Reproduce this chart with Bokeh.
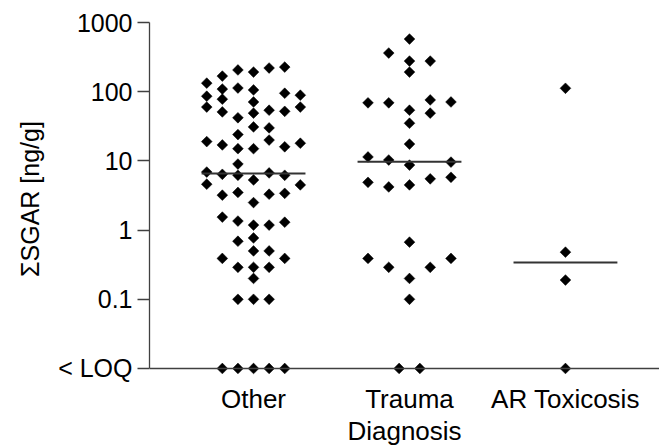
import numpy as np
from bokeh.plotting import figure
from bokeh.models import Range1d, FixedTicker, Span
from bokeh.embed import file_html
from bokeh.resources import INLINE

# ---- data -------------------------------------------------------------
categories = ["Other", "Trauma", "AR Toxicosis"]
LOQ = 0.01  # values below limit of quantification are plotted here
y_ticks = [0.01, 0.1, 1, 10, 100, 1000]
y_tick_labels = ["< LOQ", "0.1", "1", "10", "100", "1000"]

other_values = [206, 192, 220, 227, 168, 133, 109, 113, 106, 86,
                78, 71, 95, 89, 60, 51, 49, 54, 52, 60,
                42, 31, 30, 24, 19, 17, 15, 15, 20, 16,
                18, 9.0, 6.9, 6.4, 6.2, 6.7, 6.2, 5.3, 4.6, 4.5,
                3.2, 3.5, 3.3, 3.4, 2.5, 1.54, 1.35, 1.18, 1.18, 1.30,
                0.77, 0.69, 0.50, 0.50, 0.39, 0.29, 0.29, 0.29, 0.39, 0.20,
                0.1, 0.1, 0.1, LOQ, LOQ, LOQ, LOQ, LOQ]
other_cols = [-1, 0, 1, 2, -2, -3, -2, -1, 0, -3,
              -2, 0, 2, 3, -3, -2, 0, 1, 2, 3,
              -1, 0, 1, -1, -3, -2, -1, 0, 1, 2,
              3, -1, -3, -2, -1, 1, 2, 0, -3, 3,
              -2, -1, 1, 2, 0, -2, -1, 0, 1, 2,
              0, -1, 0, 1, -2, -1, 0, 1, 2, 0,
              -1, 0, 1, -2, -1, 0, 1, 2]

trauma_values = [577, 362, 277, 277, 192, 69, 69, 76, 71, 54,
                 49, 35, 17.5, 11.4, 10.3, 8.7, 9.6, 4.9, 4.2, 4.5,
                 5.5, 5.8, 0.67, 0.39, 0.29, 0.29, 0.39, 0.20, 0.1, LOQ, LOQ]
trauma_cols = [0, -1, 0, 1, 0, -2, -1, 1, 2, 0,
               1, 0, 0, -2, -1, 0, 2, -2, -1, 0,
               1, 2, 0, -2, -1, 1, 2, 0, 0, -0.5, 0.5]

ar_values = [112, 0.48, 0.19, LOQ]
ar_cols = [0, 0, 0, 0]

medians = [6.6, 9.7, 0.34]
col_step = [0.1, 0.133, 0.133]
median_half_width = 0.333

# ---- figure -----------------------------------------------------------
FONT = "Liberation Sans"
AXIS_COLOR = "#404040"

p = figure(width=659, height=448,
           x_range=Range1d(0.333, 3.603), y_range=Range1d(0.00792, 1000),
           y_axis_type="log", output_backend="svg", toolbar_location=None,
           min_border_left=149, min_border_right=0, min_border_top=22,
           min_border_bottom=73)
p.outline_line_color = None
p.grid.visible = False
p.background_fill_color = "white"
p.border_fill_color = "white"

# x axis line drawn at the "< LOQ" level (range extends a bit below so markers are not cut)
p.add_layout(Span(location=LOQ, dimension="width", line_color=AXIS_COLOR, line_width=1.3))

groups = [(other_values, other_cols), (trauma_values, trauma_cols), (ar_values, ar_cols)]
for i, (vals, cols) in enumerate(groups):
    xs = [i + 1 + c * col_step[i] for c in cols]
    p.scatter(xs, vals, marker="square", angle=np.pi / 4, size=7.6,
              fill_color="black", line_color="black", line_width=0.5)

cat_pos = [i + 1 for i in range(len(categories))]
p.segment(x0=[c - median_half_width for c in cat_pos], x1=[c + median_half_width for c in cat_pos],
          y0=medians, y1=medians, line_color="#333333", line_width=2)

# y axis
ya = p.yaxis[0]
ya.ticker = FixedTicker(ticks=y_ticks)
ya.major_label_overrides = {t: l for t, l in zip(y_ticks, y_tick_labels)}
ya.bounds = (LOQ, 1000)
ya.minor_tick_line_color = None
ya.major_tick_out = 12
ya.major_tick_in = 0
ya.major_label_standoff = 5
ya.axis_line_color = AXIS_COLOR
ya.major_tick_line_color = AXIS_COLOR
ya.axis_line_width = 1.3
ya.major_tick_line_width = 1.3
ya.major_label_text_font = FONT
ya.major_label_text_font_size = "25px"
ya.major_label_text_color = "black"
ya.axis_label = "ΣSGAR [ng/g]"
ya.axis_label_text_font = FONT
ya.axis_label_text_font_size = "25px"
ya.axis_label_text_font_style = "normal"
ya.axis_label_text_color = "black"
ya.axis_label_standoff = 11

# x axis (its own line hidden; the visible line is the span at LOQ)
xa = p.xaxis[0]
xa.ticker = FixedTicker(ticks=cat_pos)
xa.major_label_overrides = {c: n for c, n in zip(cat_pos, categories)}
xa.minor_tick_line_color = None
xa.major_tick_line_color = None
xa.major_tick_out = 0
xa.major_tick_in = 0
xa.major_label_standoff = 8
xa.axis_line_color = None
xa.major_label_text_font = FONT
xa.major_label_text_font_size = "26px"
xa.major_label_text_color = "black"
xa.axis_label = "Diagnosis"
xa.axis_label_text_font = FONT
xa.axis_label_text_font_size = "26px"
xa.axis_label_text_font_style = "normal"
xa.axis_label_text_color = "black"
xa.axis_label_standoff = -1

open("out.html", "w").write(file_html(p, INLINE))
